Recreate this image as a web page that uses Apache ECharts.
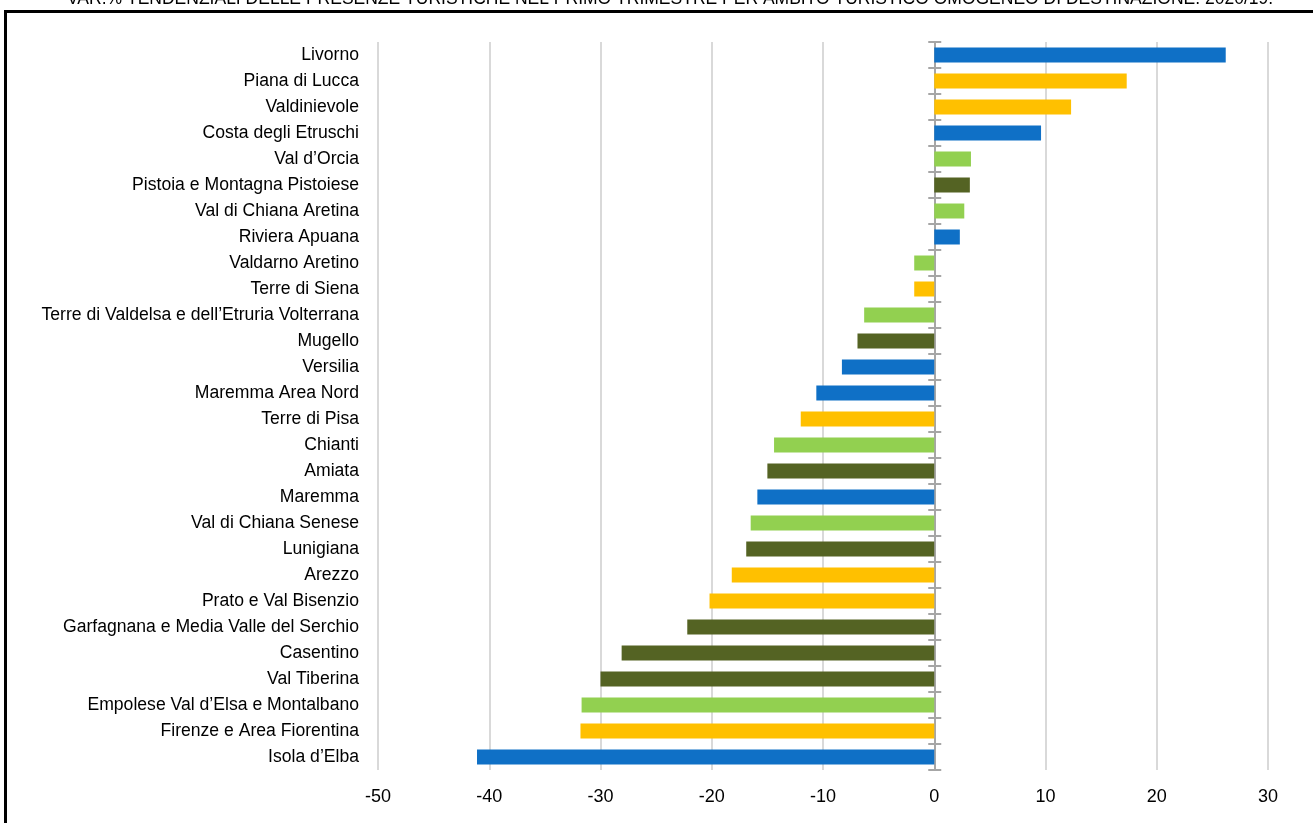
<!DOCTYPE html>
<html>
<head>
<meta charset="utf-8">
<title>Presenze turistiche primo trimestre 2020/19</title>
<script src="https://cdn.jsdelivr.net/npm/echarts@6/dist/echarts.min.js"></script>
<style>
  html, body { margin: 0; padding: 0; background: #ffffff; }
  #chart { width: 1313px; height: 823px; }
</style>
</head>
<body>
<div id="chart"></div>
<script>
// Ambiti turistici, dall'alto verso il basso
const ambiti = [
  'Livorno', 'Piana di Lucca', 'Valdinievole', 'Costa degli Etruschi', "Val d\u2019Orcia",
  'Pistoia e Montagna Pistoiese', 'Val di Chiana Aretina', 'Riviera Apuana', 'Valdarno Aretino',
  'Terre di Siena', "Terre di Valdelsa e dell\u2019Etruria Volterrana", 'Mugello', 'Versilia',
  'Maremma Area Nord', 'Terre di Pisa', 'Chianti', 'Amiata', 'Maremma', 'Val di Chiana Senese',
  'Lunigiana', 'Arezzo', 'Prato e Val Bisenzio', 'Garfagnana e Media Valle del Serchio',
  'Casentino', 'Val Tiberina', "Empolese Val d\u2019Elsa e Montalbano",
  'Firenze e Area Fiorentina', "Isola d\u2019Elba"
];

// Variazione % delle presenze, primo trimestre 2020 su 2019
const variazioni = [
  26.2, 17.3, 12.3, 9.6, 3.3,
  3.2, 2.7, 2.3, -1.8,
  -1.8, -6.3, -6.9, -8.3,
  -10.6, -12.0, -14.4, -15.0, -15.9, -16.5,
  -16.9, -18.2, -20.2, -22.2,
  -28.1, -30.0, -31.7,
  -31.8, -41.1
];

// Tipologia di ambito (mare, città, campagna, montagna)
const tipologie = [
  'mare', 'citta', 'citta', 'mare', 'campagna',
  'montagna', 'campagna', 'mare', 'campagna',
  'citta', 'campagna', 'montagna', 'mare',
  'mare', 'citta', 'campagna', 'montagna', 'mare', 'campagna',
  'montagna', 'citta', 'citta', 'montagna',
  'montagna', 'montagna', 'campagna',
  'citta', 'mare'
];

const tickValori = [-50, -40, -30, -20, -10, 0, 10, 20, 30];

const titolo = 'VAR.% TENDENZIALI DELLE PRESENZE TURISTICHE NEL PRIMO TRIMESTRE PER AMBITO TURISTICO OMOGENEO DI DESTINAZIONE. 2020/19.';

const coloriTipologia = {
  mare: '#0F70C6',
  citta: '#FFC000',
  campagna: '#92D050',
  montagna: '#546323'
};

const FONT = "'Liberation Sans', Arial, sans-serif";
const GRIGIO_ASSE = '#A6A6A6';

const chart = echarts.init(document.getElementById('chart'), null, { renderer: 'canvas' });

const barData = variazioni.map((v, i) => ({
  value: v,
  itemStyle: { color: coloriTipologia[tipologie[i]] }
}));

const baseCatAxis = {
  type: 'category',
  data: ambiti,
  inverse: true,
  position: 'left'
};

const scalaValori = {
  type: 'value',
  min: tickValori[0],
  max: tickValori[tickValori.length - 1],
  interval: 10
};

chart.setOption({
  backgroundColor: '#ffffff',
  animation: false,
  title: {
    text: titolo,
    left: 62,
    top: -15,
    textStyle: { fontFamily: FONT, fontSize: 17.5, fontWeight: 'normal', color: '#000000' }
  },
  graphic: [{
    type: 'rect',
    shape: { x: 5.5, y: 11.5, width: 1400, height: 900 },
    style: { fill: null, stroke: '#000000', lineWidth: 3 },
    silent: true,
    z: 100
  }],
  grid: { left: 378, right: 45, top: 42, bottom: 53, containLabel: false },
  xAxis: [
    Object.assign({}, scalaValori, {
      position: 'bottom',
      axisLine: { show: false },
      axisTick: { show: false },
      axisLabel: { fontFamily: FONT, fontSize: 18, color: '#000000', margin: 18 },
      splitLine: { show: true, lineStyle: { color: '#D9D9D9', width: 2 } }
    }),
    // scala gemella, serve solo a fissare il secondo asse verticale sullo zero
    Object.assign({}, scalaValori, {
      position: 'bottom',
      show: false
    })
  ],
  yAxis: [
    Object.assign({}, baseCatAxis, {
      axisLine: { show: false, onZero: false },
      axisTick: { show: false },
      axisLabel: { fontFamily: FONT, fontSize: 17.6, color: '#000000', margin: 19 }
    }),
    Object.assign({}, baseCatAxis, {
      axisLine: { show: true, onZero: true, onZeroAxisIndex: 0, lineStyle: { color: GRIGIO_ASSE, width: 2 } },
      axisTick: { show: true, inside: true, length: 7, lineStyle: { color: GRIGIO_ASSE, width: 2 } },
      axisLabel: { show: false }
    }),
    Object.assign({}, baseCatAxis, {
      axisLine: { show: true, onZero: true, onZeroAxisIndex: 1, lineStyle: { color: GRIGIO_ASSE, width: 2 } },
      axisTick: { show: true, inside: false, length: 6, lineStyle: { color: GRIGIO_ASSE, width: 2 } },
      axisLabel: { show: false }
    })
  ],
  series: [{
    type: 'bar',
    xAxisIndex: 0,
    yAxisIndex: 0,
    barWidth: 15,
    data: barData,
    z: 1
  }]
});
</script>
</body>
</html>
